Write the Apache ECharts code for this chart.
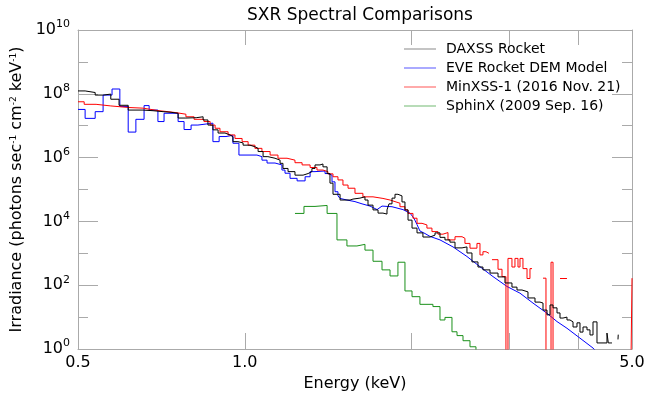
<!DOCTYPE html>
<html><head><meta charset="utf-8">
<script src="https://cdn.jsdelivr.net/npm/echarts@6/dist/echarts.min.js"></script>
<style>html,body{margin:0;padding:0;background:#fff}#c{width:649px;height:400px}</style>
</head><body><div id="c"></div>
<script>
// ---- data (energy in keV, irradiance given as log10 of photons s^-1 cm^-2 keV^-1) ----
const daxssEnergy = [0.500,0.515,0.537,0.555,0.573,0.593,0.616,0.655,0.683,0.712,0.736,0.758,0.783,0.817,0.841,0.858,0.876,0.895,0.921,0.941,0.952,0.972,0.993,1.022,1.043,1.057,1.079,1.101,1.134,1.158,1.172,1.197,1.232,1.274,1.301,1.322,1.339,1.367,1.384,1.408,1.425,1.443,1.486,1.549,1.568,1.614,1.648,1.669,1.704,1.740,1.776,1.806,1.821,1.844,1.867,1.890,1.922,1.946,1.971,2.004,2.046,2.097,2.159,2.205,2.251,2.298,2.346,2.396,2.467,2.518,2.571,2.636,2.691,2.771,2.865,2.949,3.036,3.100,3.165,3.245,3.341,3.411,3.454,3.512,3.556,3.601,3.661,3.707,3.753,3.816,3.864,3.913,3.978,4.028,4.079,4.147,4.199,4.252,4.323,4.506,4.531,4.580,4.600,4.717,4.722,4.730];
const daxssLog10  = [8.09,8.04,7.96,7.99,7.83,7.64,7.49,7.47,7.44,7.42,7.39,7.24,7.25,7.28,7.18,7.02,6.87,6.77,6.71,6.65,6.50,6.46,6.39,6.34,6.29,6.19,6.03,5.98,5.92,5.82,5.66,5.56,5.45,5.50,5.56,5.66,5.77,5.80,5.71,5.50,5.20,4.85,4.67,4.70,4.73,4.77,4.67,4.51,4.36,4.26,4.23,4.36,4.55,4.73,4.85,4.80,4.61,4.36,4.04,3.79,3.64,3.51,3.57,3.64,3.50,3.42,3.35,3.17,3.20,3.01,2.73,2.57,2.48,2.38,2.26,2.07,1.94,1.85,1.79,1.60,1.47,1.44,1.22,1.07,1.38,1.29,1.13,0.97,1.00,0.91,0.85,0.69,0.82,0.53,0.69,0.60,0.44,0.85,0.19,0.50,0.19,0.19,null,0.30,0.45,null];

const eveCoarseEnergy = [0.500,0.515,0.537,0.555,0.576,0.595,0.616,0.636,0.658,0.672,0.697,0.715,0.758,0.777,0.800,0.823,0.876,0.899,0.925,0.952,0.976,1.052,1.074,1.097,1.134,1.167,1.182,1.207,1.243,1.285,1.312,1.339,1.396,1.413,1.437,1.455,1.473];
const eveCoarseLog10  = [7.51,7.23,7.44,7.96,8.15,7.60,6.80,7.20,7.63,7.49,7.13,7.39,7.13,6.88,7.02,7.08,6.50,6.66,6.70,6.45,6.08,6.03,5.92,5.83,5.77,5.61,5.51,5.35,5.27,5.40,5.56,5.58,5.50,5.45,5.24,4.93,4.80];
const eveFineEnergy = [1.473,1.486,1.529,1.581,1.628,1.683,1.733,1.769,1.844,1.930,1.987,2.020,2.046,2.071,2.115,2.159,2.251,2.376,2.518,2.658,2.806,2.974,3.139,3.313,3.512,3.661,3.816,4.028,4.252,4.377,4.500];
const eveFineLog10  = [4.80,4.72,4.67,4.62,4.55,4.48,4.37,4.48,4.46,4.37,4.26,4.10,3.90,3.70,3.62,3.53,3.42,3.20,2.90,2.58,2.27,1.96,1.75,1.44,1.12,0.86,0.65,0.34,0.03,-0.20,-0.40];

const minxssEnergy = [0.500,0.513,0.539,0.573,0.618,0.655,0.677,0.700,0.727,0.751,0.783,0.810,0.844,0.866,0.884,0.902,0.933,0.960,0.989,1.014,1.043,1.074,1.111,1.148,1.192,1.232,1.269,1.312,1.350,1.384,1.413,1.443,1.473,1.504,1.536,1.581,1.634,1.704,1.776,1.829,1.867,1.906,1.946,1.971,2.012,2.046,2.089,2.132,2.177,2.232,2.279,2.327,2.396,2.467,2.497,2.550,2.625,2.658,2.691,2.725,2.759,2.794,2.865,2.913,2.961,2.986,3.036,3.074,3.113,3.139,3.178,3.232,3.272,3.300,3.454,3.497,3.571,3.601,3.631,3.707,3.753,3.816,4.959,5.000];
const minxssLog10  = [7.75,7.67,7.62,7.57,7.55,7.51,7.47,7.44,7.41,7.36,7.28,7.20,7.13,7.02,6.92,6.81,6.71,6.60,6.50,6.39,6.29,6.19,6.08,5.98,5.92,5.84,5.77,5.69,5.61,5.56,5.49,5.40,5.30,5.14,5.04,4.88,4.77,4.72,4.67,4.62,4.57,4.46,4.36,4.25,4.10,3.94,3.89,3.79,3.68,3.60,3.65,3.42,3.52,3.47,3.31,3.16,3.31,2.95,3.05,3.00,null,2.80,2.50,2.27,-3,2.84,2.57,2.84,2.57,2.84,2.52,2.21,2.52,null,2.22,-3,2.72,-3,null,2.21,2.21,null,-3,2.22];

const sphinxEnergy = [1.232,1.279,1.339,1.408,1.467,1.529,1.594,1.648,1.704,1.769,1.829,1.890,1.946,2.004,2.071,2.186,2.251,2.298,2.366,2.416,2.477,2.550,2.614,2.680];
const sphinxLog10  = [4.25,4.47,4.50,4.25,3.42,3.23,3.28,3.10,2.75,2.48,2.29,2.72,1.82,1.64,1.40,1.33,0.91,0.99,0.54,0.42,0.26,0.07,-0.10,-0.10];

const seriesNames = ['DAXSS Rocket','EVE Rocket DEM Model','MinXSS-1 (2016 Nov. 21)','SphinX (2009 Sep. 16)'];
const xLabelValues = [0.5, 1.0, 5.0];
const xTickValues = [1, 2, 3, 4];
const yMajorValues = [1e0, 1e2, 1e4, 1e6, 1e8, 1e10];
const yMinorValues = [1e1, 1e3, 1e5, 1e7, 1e9];

// ---- build ----
const FONT = 'DejaVu Sans';
function pairs(e, l){ return e.map((v,i)=> l[i]===null ? [v,'-'] : [v, Math.pow(10, l[i])]); }
const axisGray = '#aaaaaa';
const colors = ['#000000', '#0000ff', '#ff0000', '#1a901a'];
const legendColors = ['#888888', '#5555ff', '#ff5555', '#70b870'];

function yAx(pos, ticks, len, withLabels, withLine){
  const a = {type:'log', logBase:10, min:1, max:1e10, position:pos,
    axisLine:{show:withLine, lineStyle:{color:axisGray, width:1}},
    axisTick:{show:true, inside:true, length:len, customValues:ticks, lineStyle:{color:axisGray}},
    splitLine:{show:false}, minorTick:{show:false}, minorSplitLine:{show:false},
    axisLabel:{show:false}};
  if (withLabels){
    a.axisLabel = {show:true, customValues:yMajorValues, margin:8, showMinLabel:true, showMaxLabel:true,
      formatter: v => '{b|10}{s|' + Math.round(Math.log10(v)) + '}',
      rich:{ b:{fontSize:16, fontFamily:FONT, color:'#000', lineHeight:22},
             s:{fontSize:11, fontFamily:FONT, color:'#000', verticalAlign:'top', lineHeight:12} } };
    a.name = 'Irradiance (photons sec{s|-1} cm{s|-2} keV{s|-1})';
    a.nameLocation = 'middle';
    a.nameGap = 52;
    a.nameRotate = 90;
    a.nameTextStyle = {fontSize:16, fontFamily:FONT, color:'#000',
      rich:{ s:{fontSize:9, fontFamily:FONT, color:'#000', verticalAlign:'top', lineHeight:10} } };
  }
  return a;
}
function xAx(pos, len, withLabels){
  const a = {type:'log', logBase:10, min:0.5, max:5, position:pos,
    axisLine:{show:true, lineStyle:{color:axisGray, width:1}},
    axisTick:{show:true, inside:true, length:len, customValues:xTickValues, lineStyle:{color:axisGray}},
    splitLine:{show:false}, minorTick:{show:false},
    axisLabel:{show:false}};
  if (withLabels){
    a.axisLabel = {show:true, customValues:xLabelValues, formatter: v => Number(v).toFixed(1),
      fontSize:16, fontFamily:FONT, color:'#000', margin:6, showMinLabel:true, showMaxLabel:true, hideOverlap:false};
    a.name = 'Energy (keV)';
    a.nameLocation = 'middle';
    a.nameGap = 27;
    a.nameTextStyle = {fontSize:16, fontFamily:FONT, color:'#000'};
  }
  return a;
}

const base = {type:'line', symbol:'none', showSymbol:false, connectNulls:false, clip:true, animation:false, xAxisIndex:0, yAxisIndex:0};
const option = {
  animation:false,
  backgroundColor:'#fff',
  title:{text:'SXR Spectral Comparisons', left:355, top:2, textAlign:'center',
    textStyle:{fontSize:17, fontWeight:'normal', fontFamily:FONT, color:'#000'}},
  legend:{orient:'vertical', left:399, top:37, itemWidth:32, itemHeight:1, itemGap:5,
    icon:'path://M0 0 H32 V1 H0 Z',
    data:seriesNames.map((n,i)=>({name:n, itemStyle:{color:legendColors[i]}})),
    textStyle:{fontSize:14, fontFamily:FONT, color:'#000', lineHeight:14, padding:[0,0,0,5]}},
  grid:{left:78, right:17, top:30, bottom:51, containLabel:false},
  xAxis:[ xAx('bottom', 16, true), xAx('top', 15, false) ],
  yAxis:[ yAx('left', yMajorValues, 20, true, true), yAx('left', yMinorValues, 10, false, false),
          yAx('right', yMajorValues, 20, false, true), yAx('right', yMinorValues, 10, false, false) ],
  series:[
    Object.assign({}, base, {name:seriesNames[1], step:'end', color:colors[1], lineStyle:{width:1, color:colors[1]}, data:pairs(eveCoarseEnergy, eveCoarseLog10)}),
    Object.assign({}, base, {name:seriesNames[1], color:colors[1], lineStyle:{width:1, color:colors[1]}, data:pairs(eveFineEnergy, eveFineLog10)}),
    Object.assign({}, base, {name:seriesNames[2], step:'end', color:colors[2], lineStyle:{width:1, color:colors[2]}, data:pairs(minxssEnergy, minxssLog10)}),
    Object.assign({}, base, {name:seriesNames[3], step:'end', color:colors[3], lineStyle:{width:1, color:colors[3]}, data:pairs(sphinxEnergy, sphinxLog10)}),
    Object.assign({}, base, {name:seriesNames[0], step:'end', color:colors[0], lineStyle:{width:1, color:colors[0]}, data:pairs(daxssEnergy, daxssLog10)})
  ]
};
const chart = echarts.init(document.getElementById('c'), null, {renderer:'canvas'});
chart.setOption(option);
</script>
</body></html>
